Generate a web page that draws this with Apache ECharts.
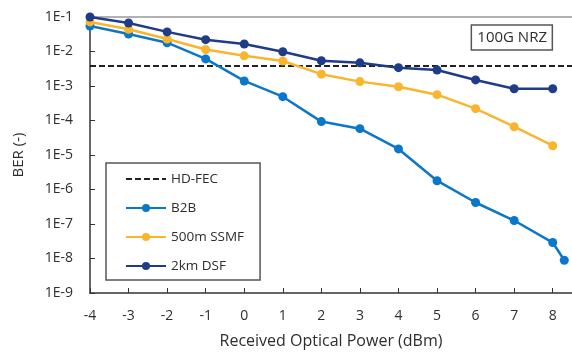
<!DOCTYPE html>
<html>
<head>
<meta charset="utf-8">
<script src="https://cdn.jsdelivr.net/npm/echarts@6/dist/echarts.min.js"></script>
<style>
  html, body { margin: 0; padding: 0; background: #fff; }
  #main { width: 572px; height: 354px; }
</style>
</head>
<body>
<div id="main"></div>
<script>
// received optical power (dBm)
var power = [-4, -3, -2, -1, 0, 1, 2, 3, 4, 5, 6, 7, 8];
var powerB2B = [-4, -3, -2, -1, 0, 1, 2, 3, 4, 5, 6, 7, 8, 8.3];

// BER values
var berB2B = [0.055, 0.032, 0.018, 0.0061, 0.0014, 4.9e-4, 9.3e-5, 5.8e-5, 1.5e-5, 1.8e-6, 4.2e-7, 1.26e-7, 2.9e-8, 8.9e-9];
var berSSMF = [0.072, 0.044, 0.023, 0.0114, 0.0075, 0.0053, 0.0022, 0.00134, 9.5e-4, 5.6e-4, 2.2e-4, 6.6e-5, 1.86e-5];
var berDSF = [0.1, 0.067, 0.037, 0.022, 0.0165, 0.0098, 0.0054, 0.0047, 0.0034, 0.0029, 0.0015, 8.3e-4, 8.3e-4];
var hdFec = 3.8e-3;

function pairs(xs, ys) {
    return xs.map(function (x, i) { return [x, ys[i]]; });
}

var font = 'Open Sans';
var textColor = '#2e2e2e';

var myChart = echarts.init(document.getElementById('main'));

var option = {
    animation: false,
    title: {
        text: '100G NRZ',
        right: 19,
        top: 25,
        padding: [5, 6, 5, 6],
        borderColor: '#555',
        borderWidth: 1.5,
        textStyle: {fontFamily: font, fontSize: 15, fontWeight: 'normal', color: textColor}
    },
    legend: {
        orient: 'vertical',
        left: 106,
        top: 163,
        itemWidth: 40,
        itemHeight: 10,
        itemGap: 15,
        padding: [9, 16, 7, 19],
        backgroundColor: '#fff',
        borderColor: '#555',
        borderWidth: 1.5,
        textStyle: {fontFamily: font, fontSize: 13.5, color: textColor},
        data: [{name: 'HD-FEC', itemStyle: {opacity: 0}}, 'B2B', '500m SSMF', '2km DSF']
    },
    grid: {left: 90, right: 0, top: 17, bottom: 60},
    xAxis: [{
        type: 'value',
        min: -4,
        max: 8.5,
        interval: 1,
        name: 'Received Optical Power (dBm)',
        nameLocation: 'middle',
        nameGap: 40,
        nameTextStyle: {fontFamily: font, fontSize: 16, color: textColor},
        axisLine: {onZero: false, lineStyle: {color: '#333', width: 1.5}},
        axisTick: {inside: true, length: 5, lineStyle: {color: '#333'}},
        axisLabel: {
            fontFamily: font, fontSize: 14, color: textColor, margin: 16,
            showMaxLabel: false,
            formatter: function (v) { return v % 1 === 0 ? String(v) : ''; }
        },
        splitLine: {show: false}
    }, {
        type: 'value',
        position: 'top',
        min: -4,
        max: 8.5,
        axisLine: {show: true, onZero: false, lineStyle: {color: '#999', width: 1.5}},
        axisTick: {show: false},
        axisLabel: {show: false},
        splitLine: {show: false}
    }],
    yAxis: {
        type: 'log',
        logBase: 10,
        min: 1e-9,
        max: 1e-1,
        interval: 1,
        name: 'BER (-)',
        nameLocation: 'middle',
        nameGap: 64,
        nameTextStyle: {fontFamily: font, fontSize: 15, color: textColor},
        axisLine: {show: true, onZero: false, lineStyle: {color: '#333', width: 1.5}},
        axisTick: {show: true, inside: true, length: 5, lineStyle: {color: '#333'}},
        axisLabel: {
            fontFamily: font, fontSize: 14, color: textColor, margin: 17,
            formatter: function (v) { return '1E' + Math.round(Math.log10(v)); }
        },
        splitLine: {show: false}
    },
    series: [{
        name: 'HD-FEC',
        type: 'line',
        symbol: 'none',
        color: '#222',
        lineStyle: {color: '#222', width: 2, type: [6, 3]},
        data: [[-4, hdFec], [8.5, hdFec]],
        z: 1
    }, {
        name: 'B2B',
        type: 'line',
        symbol: 'circle',
        symbolSize: 9,
        color: '#0B77C9',
        lineStyle: {width: 2.5},
        data: pairs(powerB2B, berB2B),
        z: 2
    }, {
        name: '500m SSMF',
        type: 'line',
        symbol: 'circle',
        symbolSize: 9,
        color: '#F9B52E',
        lineStyle: {width: 2.5},
        data: pairs(power, berSSMF),
        z: 3
    }, {
        name: '2km DSF',
        type: 'line',
        symbol: 'circle',
        symbolSize: 9,
        color: '#1F3C88',
        lineStyle: {width: 2.5},
        data: pairs(power, berDSF),
        z: 4
    }]
};

myChart.setOption(option);
</script>
</body>
</html>
